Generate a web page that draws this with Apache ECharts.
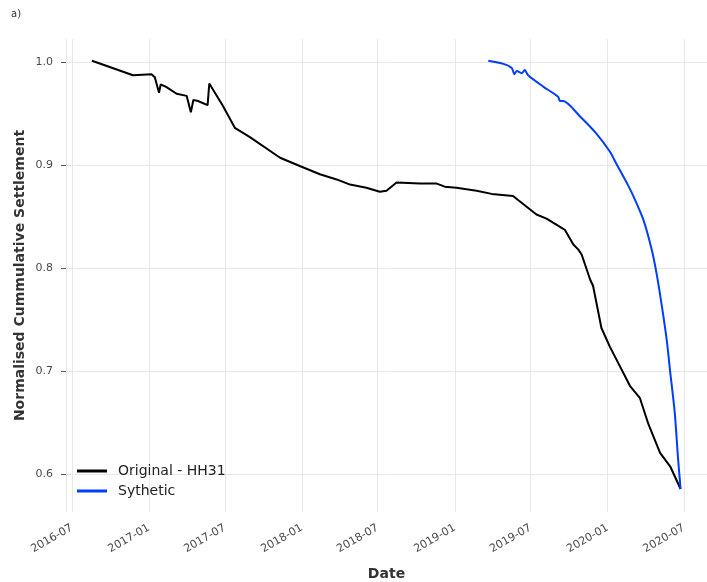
<!DOCTYPE html>
<html>
<head>
<meta charset="utf-8">
<script src="https://cdn.jsdelivr.net/npm/echarts@6/dist/echarts.min.js"></script>
<style>
  html, body { margin: 0; padding: 0; background: #ffffff; }
  #chart { width: 707px; height: 582px; }
</style>
</head>
<body>
<div id="chart"></div>
<script>
// Measured settlement (date, normalised value)
const originalDates = [
  '2016-08-18','2016-11-24','2017-01-07','2017-01-15','2017-01-25','2017-01-29',
  '2017-02-10','2017-03-08','2017-04-01','2017-04-11','2017-04-17','2017-04-28',
  '2017-05-21','2017-05-25','2017-06-27','2017-07-25','2017-08-30','2017-11-10',
  '2017-12-27','2018-02-13','2018-03-25','2018-04-26','2018-06-04','2018-07-06',
  '2018-07-22','2018-08-15','2018-10-10','2018-11-19','2018-12-08','2019-01-05',
  '2019-02-22','2019-03-30','2019-05-20','2019-06-01','2019-07-15','2019-08-08',
  '2019-09-13','2019-09-21','2019-10-11','2019-10-23','2019-10-31','2019-11-20',
  '2019-11-27','2019-12-17','2020-01-06','2020-02-23','2020-03-18','2020-04-07',
  '2020-05-05','2020-05-29','2020-06-23'
];
const originalValues = [
  1.001, 0.987, 0.988, 0.985, 0.970, 0.978,
  0.976, 0.969, 0.967, 0.951, 0.963, 0.962,
  0.958, 0.979, 0.957, 0.936, 0.927, 0.907,
  0.899, 0.891, 0.886, 0.881, 0.878, 0.874,
  0.875, 0.883, 0.882, 0.882, 0.879, 0.878,
  0.875, 0.872, 0.870, 0.866, 0.852, 0.848,
  0.839, 0.837, 0.823, 0.818, 0.813, 0.789,
  0.783, 0.742, 0.724, 0.686, 0.674, 0.649,
  0.621, 0.608, 0.586
];

// Synthetic settlement curve
const syntheticDates = [
  '2019-03-22','2019-04-27','2019-05-17','2019-05-23','2019-05-29','2019-06-10',
  '2019-06-17','2019-06-25','2019-07-31','2019-09-05','2019-09-09','2019-09-17',
  '2019-10-27','2019-12-06','2020-01-06','2020-01-22','2020-02-19','2020-03-02',
  '2020-03-26','2020-04-15','2020-04-27','2020-05-09','2020-05-21','2020-05-29',
  '2020-06-09','2020-06-17','2020-06-23'
];
const syntheticValues = [
  1.001, 0.998, 0.994, 0.988, 0.991, 0.989,
  0.992, 0.987, 0.976, 0.966, 0.962, 0.962,
  0.947, 0.930, 0.913, 0.901, 0.880, 0.870,
  0.847, 0.818, 0.794, 0.764, 0.730, 0.700,
  0.660, 0.615, 0.586
];

const seriesNames = ['Original - HH31', 'Sythetic'];
const seriesColors = ['#000000', '#003DFD'];

// Axis extents
const xMin = '2016-06-17';
const xMax = '2020-08-25';
const yMin = 0.5637;
const yMax = 1.0221;

const DAY = 86400000;
const pairs = (dates, values) => dates.map((d, i) => [d, values[i]]);
const FONT = 'DejaVu Sans';

const chart = echarts.init(document.getElementById('chart'), null, { renderer: 'canvas' });

chart.setOption({
  backgroundColor: '#ffffff',
  animation: false,
  textStyle: { fontFamily: FONT },
  graphic: [{
    type: 'text',
    left: 11,
    top: 9,
    style: { text: 'a)', font: '10px "DejaVu Sans"', fill: '#333333' }
  }],
  grid: { left: 66, right: 0, top: 39, bottom: 70, outerBoundsMode: 'none', containLabel: false },
  legend: {
    orient: 'vertical',
    left: 77,
    top: 463,
    padding: 0,
    icon: 'rect',
    itemWidth: 30,
    itemHeight: 3,
    itemGap: 4,
    data: seriesNames,
    textStyle: { fontFamily: FONT, fontSize: 14, color: '#222222', lineHeight: 16, padding: [0, 0, 0, 6] }
  },
  xAxis: {
    type: 'time',
    min: xMin,
    max: xMax,
    minInterval: 180 * DAY,
    maxInterval: 185 * DAY,
    name: 'Date',
    nameLocation: 'middle',
    nameGap: 55,
    nameTextStyle: { fontFamily: FONT, fontSize: 14, fontWeight: 'bold', color: '#333333' },
    axisLine: { show: false },
    axisTick: { show: false },
    axisLabel: {
      rotate: 30,
      margin: 15,
      fontFamily: FONT,
      fontSize: 11,
      color: '#4a4a4a',
      showMinLabel: false,
      showMaxLabel: false,
      formatter: v => echarts.time.format(v, '{yyyy}-{MM}', false)
    },
    splitLine: { show: true, lineStyle: { color: '#e8e8e8', width: 1 } }
  },
  yAxis: {
    type: 'value',
    min: yMin,
    max: yMax,
    splitNumber: 5,
    name: 'Normalised Cummulative Settlement',
    nameLocation: 'middle',
    nameGap: 39,
    nameMoveOverlap: false,
    nameTextStyle: { fontFamily: FONT, fontSize: 14, fontWeight: 'bold', color: '#333333' },
    axisLine: { show: false },
    axisTick: { show: true, length: 5, lineStyle: { color: '#555555', width: 1 } },
    axisLabel: {
      margin: 13,
      fontFamily: FONT,
      fontSize: 11,
      color: '#4a4a4a',
      showMinLabel: false,
      showMaxLabel: false,
      formatter: v => v.toFixed(1)
    },
    splitLine: { show: true, showMinLine: false, showMaxLine: false, lineStyle: { color: '#e8e8e8', width: 1 } }
  },
  series: [
    {
      name: seriesNames[0],
      type: 'line',
      data: pairs(originalDates, originalValues),
      showSymbol: false,
      color: seriesColors[0],
      lineStyle: { width: 2, color: seriesColors[0] }
    },
    {
      name: seriesNames[1],
      type: 'line',
      data: pairs(syntheticDates, syntheticValues),
      showSymbol: false,
      smooth: 0.25,
      color: seriesColors[1],
      lineStyle: { width: 2, color: seriesColors[1] }
    }
  ]
});
</script>
</body>
</html>
